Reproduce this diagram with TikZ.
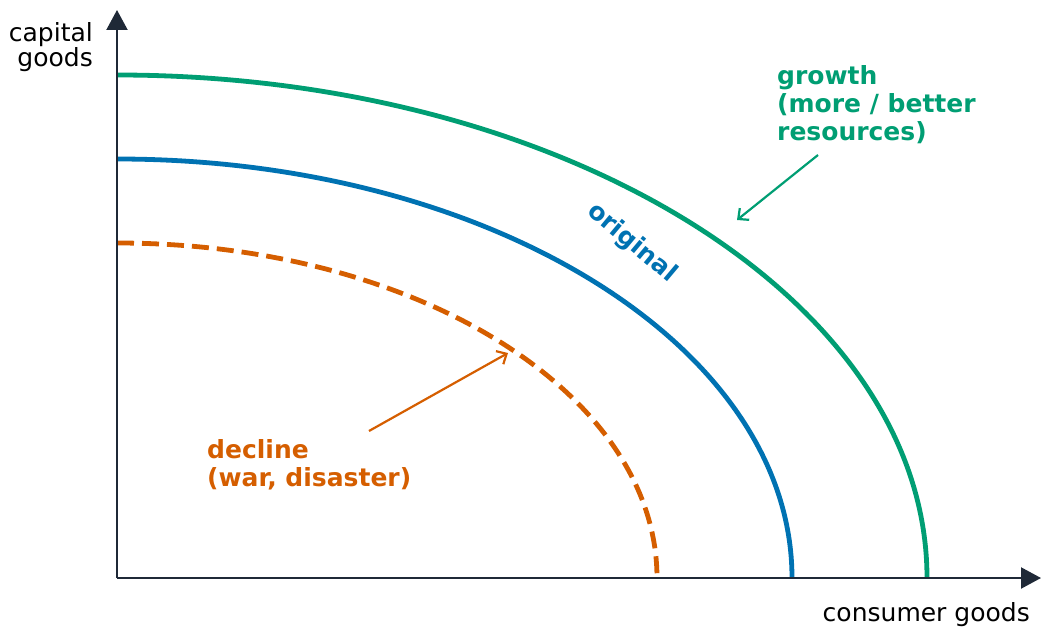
\documentclass[tikz,border=0pt]{standalone}
\usepackage{fontspec}
\setmainfont{DejaVu Sans}
\usetikzlibrary{arrows.meta}

\definecolor{axisdark}{HTML}{1F2937}
\definecolor{growthgreen}{HTML}{009E73}
\definecolor{origblue}{HTML}{0072B2}
\definecolor{declineorange}{HTML}{D55E00}

\begin{document}
\begin{tikzpicture}[x=1pt, y=1pt,
		axis/.style={line width=2.2pt, draw=axisdark, -{Triangle[length=20pt, width=21pt]}},
		frontier/.style={line width=4.8pt},
		axlabel/.style={inner sep=0pt, font=\fontsize{25}{25.5}\selectfont},
		note/.style={inner sep=0pt, align=left, font=\fontsize{25}{28}\selectfont\bfseries},
		pointer/.style={line width=2.2pt, -{Straight Barb[length=8pt, width=15pt]}}]
			\useasboundingbox (-117,-52) rectangle (924,578);

			% the three frontiers
			\draw[frontier, growthgreen] (0,503) arc[start angle=90, end angle=0, x radius=810, y radius=503];
			\draw[frontier, origblue] (0,419) arc[start angle=90, end angle=0, x radius=675, y radius=419];
			\draw[frontier, declineorange, dash pattern=on 17pt off 8pt] (0,335) arc[start angle=90, end angle=0, x radius=540, y radius=335];

			% axes
			\coordinate (origin) at (0,0);
			\coordinate (ytip) at (0,568);
			\coordinate (xtip) at (924,0);
			\draw[axis] (origin) -- (ytip);
			\draw[axis] (origin) -- (xtip);

			% base anchor sits on the last line of a wrapped node
			\node[axlabel, align=right, anchor=base east] (capital) at (-24,511) {capital\\goods};
			\node[axlabel, anchor=base east] (consumer) at (913,-43) {consumer goods};

			% labels and pointers
			\node[note, text=origblue, rotate=-40] (orig) at (515,335) {original};

			\node[note, text=growthgreen, anchor=base west] (growth) at (660,437) {growth\\(more / better\\resources)};
			\coordinate (growthfrom) at (701,423);
			\coordinate (growthto) at (620,358);
			\draw[pointer, growthgreen] (growthfrom) -- (growthto);

			\node[note, text=declineorange, anchor=base west] (decline) at (90,92) {decline\\(war, disaster)};
			\coordinate (declinefrom) at (252,147);
			\coordinate (declineto) at (391,225);
			\draw[pointer, declineorange] (declinefrom) -- (declineto);
		\end{tikzpicture}
\end{document}
